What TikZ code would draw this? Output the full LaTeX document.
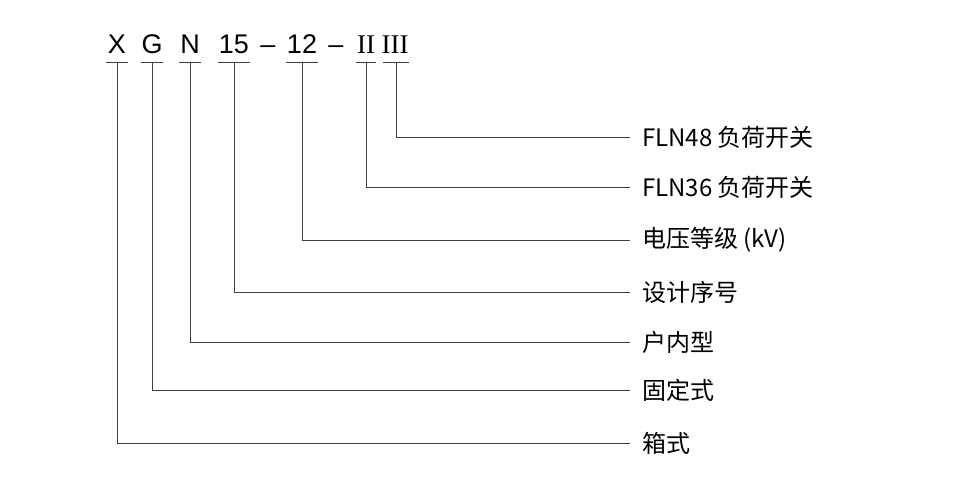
\documentclass[tikz,border=0pt]{standalone}
\usepackage{fontspec}
\setmainfont{Liberation Sans}
\newfontfamily\cjk{Noto Sans CJK SC}
\newfontfamily\romfont{Liberation Serif}
\usetikzlibrary{positioning}
\tikzstyle{code} = [inner sep=0pt, anchor=base, font=\fontsize{27}{30}\selectfont]
\tikzstyle{roman} = [code, font=\fontsize{27}{30}\selectfont\romfont]
\tikzstyle{desc} = [inner sep=0pt, anchor=west, font=\fontsize{24}{28}\selectfont\cjk]
\tikzstyle{line} = [draw=black!75, line width=0.6pt]

\begin{document}
\begin{tikzpicture}[x=1pt, y=-1pt]
\useasboundingbox (0,0) rectangle (960,500);

% Model code
\node (cX) [code] at (117,54) {X};
\node (cG) [code] at (152,54) {G};
\node (cN) [code] at (190,54) {N};
\node (c15) [code] at (234,54) {15};
\node (d1) [code] at (268,54) {--};
\node (c12) [code] at (302,54) {12};
\node (d2) [code] at (336,54) {--};
\node (cII) [roman] at (366,54) {II};
\node (cIII) [roman] at (395,54) {III};

% Descriptions
\node (lIII) [desc] at (642,137) {FLN48 负荷开关};
\node (lII) [desc] at (642,187) {FLN36 负荷开关};
\node (l12) [desc] at (642,240) {电压等级 (kV)};
\node (l15) [desc] at (642,292) {设计序号};
\node (lN) [desc] at (642,342) {户内型};
\node (lG) [desc] at (642,390) {固定式};
\node (lX) [desc] at (642,443) {箱式};

% Underlines and leaders
\foreach \c/\l/\x/\w in {cX/lX/117/11, cG/lG/152/11, cN/lN/190/11, c15/l15/234/16, c12/l12/302/16, cII/lII/366/10, cIII/lIII/396/13} {
  \draw [line] (\x-\w,62) -- (\x+\w,62);
  \draw [line] (\x,62) |- ([xshift=-12pt]\l.west);
}

\end{tikzpicture}
\end{document}
